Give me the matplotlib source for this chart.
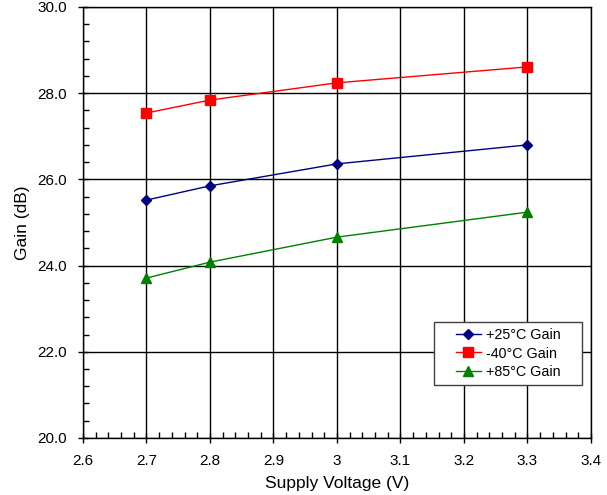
import matplotlib.pyplot as plt
import numpy as np
from matplotlib.ticker import MultipleLocator
from matplotlib.patches import Rectangle

plt.rcParams['font.family'] = ['Liberation Sans', 'DejaVu Sans']

voltage = [2.7, 2.8, 3.0, 3.3]
gain_25 = [25.52, 25.85, 26.36, 26.80]
gain_m40 = [27.54, 27.84, 28.24, 28.61]
gain_85 = [23.71, 24.08, 24.66, 25.24]

fig = plt.figure(figsize=(6.07, 4.95), dpi=100)
ax = fig.add_axes([0.1367, 0.1152, 0.8369, 0.8707])

ax.plot(voltage, gain_25, color="#000080", marker="D", markersize=5.5, lw=1, label="+25\u00b0C Gain")
ax.plot(voltage, gain_m40, color="#ff0000", marker="s", markersize=6.5, lw=1, label="-40\u00b0C Gain")
ax.plot(voltage, gain_85, color="#008000", marker="^", markersize=7, lw=1, label="+85\u00b0C Gain")

ax.set_xlim(2.6, 3.4)
ax.set_ylim(20, 30)
ax.xaxis.set_minor_locator(MultipleLocator(0.02))
ax.yaxis.set_minor_locator(MultipleLocator(0.4))
ax.set_xticks([2.6, 2.7, 2.8, 2.9, 3.0, 3.1, 3.2, 3.3, 3.4])
ax.set_xticklabels(["2.6", "2.7", "2.8", "2.9", "3", "3.1", "3.2", "3.3", "3.4"])
ax.set_yticks([20, 22, 24, 26, 28, 30])
ax.set_yticklabels(["20.0", "22.0", "24.0", "26.0", "28.0", "30.0"])

ax.tick_params(which="major", direction="inout", length=7, width=1, labelsize=11, pad=8)
ax.tick_params(which="minor", direction="in", length=4, width=1)
ax.tick_params(top=False, right=False, which="both")

ax.grid(True, which="major", color="black", lw=1)
for s in ax.spines.values():
    s.set_color("black")
    s.set_linewidth(1)

ax.set_xlabel("Supply Voltage (V)", fontsize=12.5, labelpad=6)
ax.set_ylabel("Gain (dB)", fontsize=12.5, labelpad=5)

# legend box drawn separately (Excel style: wide side padding)
box = Rectangle((0.691, 0.123), 0.291, 0.146, transform=ax.transAxes, facecolor="white",
                edgecolor="#404040", lw=1, zorder=4, clip_on=False)
ax.add_patch(box)
leg = ax.legend(loc="center", bbox_to_anchor=(0.8366, 0.196), fontsize=10.3, frameon=False,
                handlelength=1.75, borderpad=0, labelspacing=0.33, handletextpad=0.35,
                borderaxespad=0)
leg.set_zorder(5)

plt.savefig("out.png", dpi=100)
